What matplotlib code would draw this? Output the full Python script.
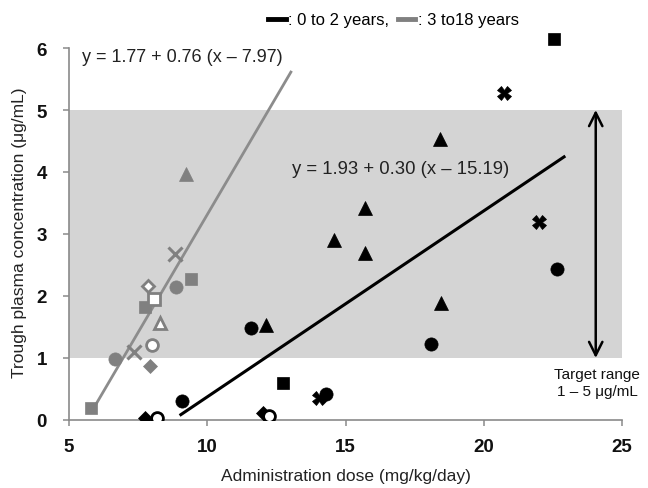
import matplotlib
matplotlib.use('Agg')
import matplotlib.pyplot as plt
from matplotlib.lines import Line2D
import numpy as np

plt.rcParams['font.family'] = ['Liberation Sans', 'DejaVu Sans']

# ---------------- data ----------------
young_dose = [22.55, 20.75, 22.0, 22.65, 18.4, 15.72, 14.6, 15.7, 18.45, 12.12,
              11.6, 18.1, 9.1, 7.75, 8.17, 12.73, 12.0, 12.24, 14.3, 14.05]
young_conc = [6.15, 5.27, 3.2, 2.43, 4.53, 3.42, 2.9, 2.7, 1.88, 1.53,
              1.48, 1.23, 0.30, 0.04, 0.04, 0.59, 0.12, 0.06, 0.42, 0.36]
young_symbol = ['square', 'cross', 'cross', 'circle', 'triangle', 'triangle', 'triangle',
                'triangle', 'triangle', 'triangle', 'circle', 'circle', 'circle', 'diamond',
                'open_circle', 'square', 'diamond', 'open_circle', 'circle', 'cross']

older_dose = [5.78, 7.75, 9.41, 6.66, 8.87, 7.35, 8.85, 7.93, 9.23, 7.99, 8.29, 8.09, 7.87]
older_conc = [0.20, 1.82, 2.28, 0.99, 2.14, 1.09, 2.68, 0.87, 3.97, 1.21, 1.56, 1.95, 2.16]
older_symbol = ['square', 'square', 'square', 'circle', 'circle', 'cross', 'cross',
                'diamond', 'triangle', 'open_circle', 'open_triangle', 'open_square',
                'open_diamond']

# regression: y = a + b (x - c), drawn over dose range
young_fit = dict(a=1.93, b=0.30, c=15.19, xmin=9.0, xmax=22.95)
older_fit = dict(a=1.77, b=0.76, c=7.97, xmin=5.94, xmax=13.05)
young_eq = 'y = 1.93 + 0.30 (x \u2013 15.19)'
older_eq = 'y = 1.77 + 0.76 (x \u2013 7.97)'

target_low, target_high = 1, 5
x_ticks = [5, 10, 15, 20, 25]
y_ticks = [0, 1, 2, 3, 4, 5, 6]
legend_labels = [': 0 to 2 years,', ': 3 to18 years']

# ---------------- style ----------------
BLACK = '#000000'
GREY = '#808080'
GREY_LINE = '#8c8c8c'
BAND = '#d4d4d4'

base = {
    'square': dict(marker='s', ms=9),
    'circle': dict(marker='o', ms=9.5),
    'triangle': dict(marker='^', ms=10),
    'diamond': dict(marker='D', ms=7),
}


def style_for(sym, color, young):
    if sym == 'cross':
        if young:
            return dict(marker='X', ms=10, mfc=color, mec=color, mew=0.5)
        return dict(marker='x', ms=10, mfc=color, mec=color, mew=2.2)
    if sym.startswith('open_'):
        st = dict(base[sym[5:]])
        st.update(mfc='white', mec=color, mew=2.0)
        st['ms'] = st['ms'] - 1
        return st
    st = dict(base[sym])
    st.update(mfc=color, mec=color, mew=0.5)
    return st


fig = plt.figure(figsize=(6.48, 4.89), dpi=100)
ax = fig.add_axes([69 / 648, 68 / 489, 553 / 648, 409.2 / 489])
ax.set_xlim(5, 25)
ax.set_ylim(0, 6.6)

ax.axhspan(target_low, target_high, xmin=0, xmax=1, color=BAND, lw=0, zorder=0)

for fit, col, lw in [(young_fit, BLACK, 2.2), (older_fit, GREY_LINE, 2.0)]:
    xs = np.array([fit['xmin'], fit['xmax']])
    ys = fit['a'] + fit['b'] * (xs - fit['c'])
    ax.plot(xs, ys, color=col, lw=lw, zorder=2, solid_capstyle='butt')

for x, y, s in zip(older_dose, older_conc, older_symbol):
    ax.plot([x], [y], ls='none', zorder=3, **style_for(s, GREY, False))
for x, y, s in zip(young_dose, young_conc, young_symbol):
    ax.plot([x], [y], ls='none', zorder=4, **style_for(s, BLACK, True))

ax.text(5.47, 5.87, older_eq, fontsize=13, color='#222222', va='center', ha='left')
ax.text(13.07, 4.05, young_eq, fontsize=13.3, color='#222222', va='center', ha='left')

ax.annotate('', xy=(24.05, target_high), xytext=(24.05, target_low),
            arrowprops=dict(arrowstyle='<->', lw=1.8, color='black', mutation_scale=24,
                            shrinkA=0, shrinkB=0))
ax.text(24.1, 0.6, 'Target range\n1 \u2013 5 \u03bcg/mL', fontsize=11, ha='center',
        va='center', linespacing=1.3, color='#111111')

for side in ['top', 'right']:
    ax.spines[side].set_visible(False)
for side in ['left', 'bottom']:
    ax.spines[side].set_color('#8a8a8a')
    ax.spines[side].set_linewidth(1.2)
ax.spines['left'].set_bounds(0, 6)

ax.set_xticks(x_ticks)
ax.set_yticks(y_ticks)
ax.tick_params(axis='both', direction='out', length=4, width=1.1, color='#8a8a8a',
               labelsize=13.5, labelcolor='#111111')
ax.tick_params(axis='y', pad=12)
ax.tick_params(axis='x', pad=9)
for lab in ax.get_xticklabels() + ax.get_yticklabels():
    lab.set_fontweight('bold')

ax.set_xlabel('Administration dose (mg/kg/day)', fontsize=12.5, color='#222222', labelpad=9)
ax.set_ylabel('Trough plasma concentration (\u03bcg/mL)', fontsize=12.5, color='#222222',
              labelpad=6)
ax.yaxis.set_label_coords(-0.076, 0.46)

handles = [Line2D([], [], color=BLACK, lw=3.5), Line2D([], [], color=GREY, lw=3.5)]
fig.legend(handles, legend_labels, loc='upper center', bbox_to_anchor=(0.607, 0.993),
           ncol=2, frameon=False, fontsize=12, handlelength=1.05, handletextpad=0.15,
           columnspacing=0.5, borderaxespad=0.2)

fig.savefig('out.png', dpi=100)
